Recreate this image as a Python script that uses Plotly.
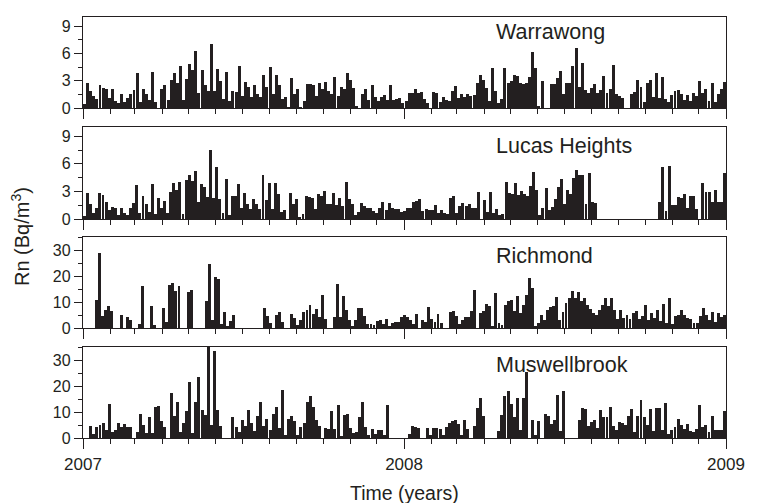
import pandas as pd
import plotly.graph_objects as go

N = None

warrawong = [0.4,2.7,1.9,1.3,1.0,2.5,2.2,2.1,1.1,2.1,0.8,0.5,1.5,0.7,1.1,1.5,2.0,3.8,0.7,2.1,
             1.5,0.9,4.0,0.7,0,2.1,2.5,0.9,3.1,3.8,2.8,4.6,0.9,3.2,4.8,4.2,6.3,1.6,4.2,2.5,
             1.9,7.0,1.9,4.3,3.0,1.0,4.0,0.8,1.9,1.8,4.6,1.3,2.9,2.3,1.2,2.5,
             1.5,1.2,3.6,2.3,4.5,1.5,3.6,2.5,1.0,1.2,0.1,3.3,1.5,2.1,0.1,0.8,2.6,2.6,2.5,1.3,
             2.8,2.1,2.9,1.9,1.5,3.4,1.3,2.3,2.1,3.8,3.1,2.2,0.2,0,1.5,2.1,0.9,2.5,1.2,0.8,
             1.2,1.4,0.9,2.5,0.9,1.0,1.1,0.5,0.8,1.6,1.6,2.1,1.6,1.8,1.0,0.6,0,1.8,1.7,0.7,
             1.2,0.9,0.8,1.9,2.4,1.1,1.5,1.2,1.5,1.3,1.4,2.7,3.6,3.1,2.2,0.8,
             4.4,1.9,0.6,1.0,4.4,2.7,3.0,3.6,3.5,2.7,2.6,2.7,3.4,6.2,4.4,0.2,3.0,0,0,2.6,
             2.6,3.3,4.1,1.5,2.7,2.7,4.6,6.6,2.3,5.0,2.0,1.7,2.2,2.6,1.6,2.0,3.5,1.6,2.1,4.7,
             1.5,1.3,1.1,0,0,1.5,1.8,3.1,2.3,0.7,2.7,3.1,1.2,3.8,1.1,3.4,1.0,0.7,1.4,1.9,
             2.0,1.5,0.9,1.4,0.8,1.6,1.3,3.0,1.7,2.1,0.8,2.7,0.7,1.5,2.1,2.9]

lucas_heights = [0.3,2.8,1.6,0.6,1.2,2.8,2.6,1.9,1.0,1.3,1.2,0.4,1.2,0.6,0.4,1.2,1.7,3.7,0.7,2.5,
                 1.6,0.8,3.8,0.5,2.3,1.2,2.0,0.7,2.9,3.9,3.2,4.0,0.5,4.2,4.8,4.1,5.2,1.8,3.8,3.5,
                 2.4,7.5,2.3,5.6,2.2,0.6,4.4,0.4,2.5,2.5,3.8,1.2,2.8,1.6,1.1,2.2,
                 1.6,1.1,4.8,2.1,3.9,1.1,3.9,2.7,0.8,1.0,0,2.8,1.6,2.2,0.25,0.5,2.5,2.4,2.3,1.1,
                 2.7,2.5,3.0,1.6,1.6,2.8,1.5,2.3,1.4,4.0,2.2,1.6,0.4,0.8,1.7,1.4,1.2,1.2,0.9,0.7,
                 1.2,1.9,1.0,1.7,1.2,1.1,1.1,0.8,0.9,1.2,1.2,1.9,2.0,2.2,0.9,1.1,1.0,1.0,1.5,0.6,
                 1.0,0.6,0.5,2.3,2.5,0.7,1.4,1.7,1.4,1.6,1.2,1.2,2.9,0,2.1,0.8,
                 2.9,0.6,1.1,0.4,0.5,4.0,2.8,2.7,3.9,2.6,3.0,2.7,2.5,3.6,5.1,3.2,0.4,1.2,3.4,1.0,
                 1.3,2.2,3.5,4.3,1.6,3.2,2.7,4.5,5.3,4.8,4.8,1.6,5.0,1.8,1.7,
                 N,N,N,N,N,N,N,N,N,N,N,N,N,N,N,N,N,N,N,N,
                 1.9,5.6,0.9,5.8,1.5,1.5,2.4,2.3,2.7,1.2,2.5,2.5,1.1,N,3.9,2.9,2.9,1.8,3.1,1.8,
                 1.8,5.0]

richmond = [N,N,N,N,10.9,29,4.5,7.0,8.6,6.4,N,N,5.1,N,4.1,2.9,N,N,1.7,16.0,
            N,N,8.3,1.0,N,N,7.7,2.2,16.6,17.2,14.3,16.0,N,N,14.0,14.7,N,N,N,N,
            10.2,24.5,3.2,19.8,18.8,1.7,6.1,0.9,2.6,5.1,N,N,N,N,N,N,N,N,N,
            7.7,4.7,1.9,N,5.1,6.1,2.2,N,N,5.5,3.8,1.3,2.9,6.0,7.0,8.9,5.5,7.3,4.2,12.6,3.4,N,N,
            4.2,17.0,4.2,12.4,7.0,2.9,0.9,3.2,7.7,7.7,4.7,1.7,1.5,1.3,2.6,3.2,1.7,3.4,0.4,1.9,
            2.2,2.2,4.2,4.9,4.2,3.2,1.5,5.4,N,3.2,2.2,8.0,3.4,2.2,5.5,1.9,N,N,6.0,6.4,
            4.5,1.7,3.2,4.2,4.2,6.4,14.7,N,5.7,6.4,9.3,8.6,0.9,13.4,
            1.9,1.3,8.9,10.2,10.9,6.4,12.4,5.7,8.9,12.8,19.4,15.5,0.6,1.9,5.1,3.2,7.0,8.0,8.3,12.1,
            2.9,6.0,9.6,11.5,14.3,11.5,14.0,10.2,11.5,8.9,7.3,5.7,5.1,7.0,8.9,11.5,8.3,11.5,7.0,3.4,
            7.0,3.8,5.1,3.4,5.7,6.4,3.4,4.7,8.9,3.2,5.7,3.8,7.0,2.6,9.3,1.9,11.5,1.5,4.7,5.1,
            6.8,5.1,3.8,3.4,1.9,1.9,4.7,7.7,5.1,3.2,6.0,2.2,5.7,4.2,5.1]

muswellbrook = [N,N,4.7,1.7,4.2,5.1,5.7,3.2,13.2,2.2,3.2,5.7,4.2,5.5,4.2,4.2,N,2.4,9.2,4.9,
                1.9,8.0,1.9,12.1,12.4,6.4,4.1,N,17.5,8.3,13.7,2.3,5.7,10.5,21.7,2.0,13.7,23.6,10.6,8.9,
                35,5.1,33.6,10.6,4.7,N,N,N,8.0,4.2,2.2,7.0,4.7,10.6,5.7,
                2.6,8.6,14.0,4.5,7.3,2.9,9.3,11.9,3.8,18.5,1.3,7.4,8.6,6.4,1.3,4.2,5.7,13.7,16.2,11.9,
                7.0,4.7,N,3.8,3.4,10.5,3.4,12.8,0.9,8.9,9.3,3.8,1.9,2.2,8.0,13.7,4.2,1.3,3.4,1.5,
                3.2,3.2,1.3,12.8,N,N,N,N,N,N,1.5,4.7,4.2,3.8,N,N,3.8,1.3,3.8,3.8,
                3.4,1.3,4.2,5.7,6.4,7.0,5.5,1.3,7.0,3.4,N,4.7,11.5,15.3,8.6,N,N,N,N,
                2.6,8.9,16.2,17.9,13.2,8.0,15.3,3.2,15.3,25.3,N,7.0,1.3,6.4,N,9.3,8.6,5.5,7.0,16.6,
                2.6,17.9,N,N,N,N,7.0,11.5,11.1,4.7,6.0,7.0,3.8,10.9,8.0,8.0,11.9,4.7,3.2,6.0,
                5.7,5.1,8.6,11.1,2.2,8.3,14.7,8.0,5.1,11.2,2.6,11.5,11.7,3.2,13.4,1.7,2.9,4.2,7.3,5.1,
                3.4,5.5,2.6,2.2,3.4,12.8,4.2,5.1,2.2,8.6,2.9,3.2,3.2,10.5]

stations = ["Warrawong", "Lucas Heights", "Richmond", "Muswellbrook"]
series = [warrawong, lucas_heights, richmond, muswellbrook]
y_max = [10, 10, 35, 35]
y_dtick = [3, 3, 10, 10]
x_ticks = ["2007", "2008", "2009"]

start = pd.Timestamp(x_ticks[0] + "-01-01")
end = pd.Timestamp(x_ticks[-1] + "-01-01")

W, H = 757, 503
L, R, T, B = 83, 20, 17, 65
ph = H - T - B
pw = W - L - R
panels_px = [(17, 108), (127, 219), (237, 328), (347, 438)]
label_px = [32, 146, 256, 365]

def py(p):
    return (H - B - p) / ph

def px(p):
    return (p - L) / pw

ink = "#231f20"
font_family = "Liberation Sans, Arial, sans-serif"

fig = go.Figure()
layout = {}
for k, (name, vals) in enumerate(zip(stations, series)):
    n = len(vals)
    step = (end - start) / n
    xs = [start + step * (i + 0.5) for i in range(n)]
    xa = "x" if k == 0 else f"x{k+1}"
    ya = "y" if k == 0 else f"y{k+1}"
    fig.add_trace(go.Bar(
        x=xs, y=vals, xaxis=xa, yaxis=ya,
        width=step.total_seconds() * 1000 * 0.96,
        marker=dict(color=ink, line=dict(width=0)),
        showlegend=False, hoverinfo="x+y"))
    top, bot = panels_px[k]
    xkey = "xaxis" if k == 0 else f"xaxis{k+1}"
    ykey = "yaxis" if k == 0 else f"yaxis{k+1}"
    layout[xkey] = dict(
        domain=[0, 1], anchor=ya, type="date",
        range=[start, end], showgrid=False, zeroline=False,
        showline=True, linecolor=ink, linewidth=1.3, mirror=True,
        ticks="outside", ticklen=10, tickwidth=1, tickcolor=ink,
        dtick="M12", tick0=start, tickformat="%Y",
        showticklabels=(k == 3),
        tickfont=dict(family=font_family, size=17, color=ink),
        minor=dict(dtick="M1", tick0=start, ticks="outside", ticklen=5,
                   tickwidth=1, tickcolor=ink, showgrid=False),
        matches=None if k == 0 else "x",
    )
    layout[ykey] = dict(
        domain=[py(bot), py(top)], anchor=xa,
        range=[0, y_max[k]], dtick=y_dtick[k], tick0=0,
        showgrid=False, zeroline=False,
        showline=True, linecolor=ink, linewidth=1.3, mirror=True,
        ticks="outside", ticklen=8, tickwidth=1, tickcolor=ink,
        tickfont=dict(family=font_family, size=16, color=ink),
        minor=dict(dtick=y_dtick[k] / 2, tick0=0, ticks="outside", ticklen=4,
                   tickwidth=1, tickcolor=ink, showgrid=False),
    )

annotations = []
for k, name in enumerate(stations):
    annotations.append(dict(
        text=name, xref="paper", yref="paper", x=px(501), y=py(label_px[k]),
        xanchor="left", yanchor="middle", showarrow=False,
        font=dict(family=font_family, size=21.5, color=ink)))
annotations.append(dict(
    text="Rn (Bq/m<sup>3</sup>)", xref="paper", yref="paper",
    x=px(20), y=py(237), xanchor="center", yanchor="middle", textangle=-90,
    showarrow=False, font=dict(family=font_family, size=20, color=ink)))
annotations.append(dict(
    text="Time (years)", xref="paper", yref="paper",
    x=px(410), y=py(493), xanchor="center", yanchor="middle",
    showarrow=False, font=dict(family=font_family, size=19.5, color=ink)))

fig.update_layout(
    width=W, height=H,
    margin=dict(l=L, r=R, t=T, b=B, pad=0),
    paper_bgcolor="white", plot_bgcolor="white",
    bargap=0, annotations=annotations,
    **layout)

fig.write_html("out.html")
